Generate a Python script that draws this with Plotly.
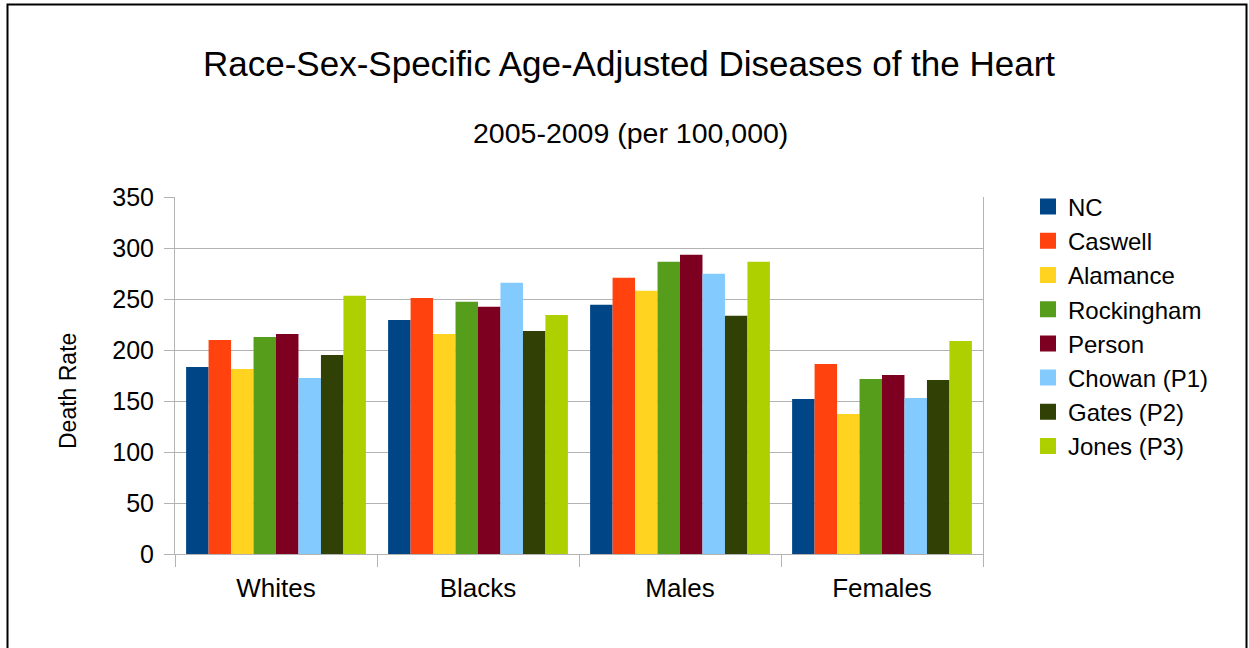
import plotly.graph_objects as go

categories = ["Whites", "Blacks", "Males", "Females"]
series_names = ["NC", "Caswell", "Alamance", "Rockingham", "Person",
                "Chowan (P1)", "Gates (P2)", "Jones (P3)"]
nc = [183.4, 229.5, 244.3, 151.9]
caswell = [209.9, 251.1, 270.8, 186.3]
alamance = [181.4, 215.8, 258.0, 137.2]
rockingham = [212.8, 247.2, 286.5, 171.6]
person = [215.8, 242.3, 293.4, 175.5]
chowan = [172.6, 265.9, 274.7, 152.9]
gates = [195.2, 218.7, 233.5, 170.6]
jones = [253.1, 234.4, 286.5, 208.9]
values = [nc, caswell, alamance, rockingham, person, chowan, gates, jones]
colors = ["#004586", "#ff420e", "#ffd320", "#579d1c", "#7e0021",
          "#83caff", "#314004", "#aecf00"]
y_ticks = [0, 50, 100, 150, 200, 250, 300, 350]

FONT = "Liberation Sans, Arial, sans-serif"

fig = go.Figure()
for name, vals, col in zip(series_names, values, colors):
    fig.add_trace(go.Bar(x=categories, y=vals, name=name, marker_color=col,
                         marker_line_width=0, showlegend=False))
# legend entries (16px squares like the original)
for name, col in zip(series_names, colors):
    fig.add_trace(go.Scatter(x=[None], y=[None], mode="markers", name=name,
                             marker=dict(symbol="square", size=16, color=col,
                                         line=dict(width=0)),
                             showlegend=True))

W, H = 1249, 648
L, R, T, B = 175, 983, 197, 554
pw, ph = R - L, B - T

def px(x):
    return (x - L) / pw

def py(y):
    return (B - y) / ph

fig.update_layout(
    width=W, height=H,
    margin=dict(l=L, r=W - R, t=T, b=H - B, pad=0),
    paper_bgcolor="white", plot_bgcolor="white",
    font=dict(family=FONT, color="black"),
    barmode="group", bargap=0.11, bargroupgap=0,
    showlegend=True,
    legend=dict(x=px(1028), y=py(184.5), xanchor="left", yanchor="top",
                font=dict(size=24, family=FONT), tracegroupgap=0,
                itemsizing="trace", bgcolor="rgba(0,0,0,0)"),
    xaxis=dict(showline=True, linecolor="#b3b3b3", linewidth=1,
               ticks="outside", tickson="boundaries", ticklen=12,
               tickcolor="#b3b3b3", tickfont=dict(size=26, family=FONT),
               ticklabelstandoff=11, showgrid=False, fixedrange=True),
    yaxis=dict(range=[0, 350], tickvals=y_ticks, showline=True, mirror=True,
               linecolor="#b3b3b3", linewidth=1, ticks="outside", ticklen=10,
               tickcolor="#b3b3b3", gridcolor="#b3b3b3", gridwidth=1,
               tickfont=dict(size=25, family=FONT), zeroline=False,
               ticklabelstandoff=5, fixedrange=True),
    annotations=[
        dict(text="Race-Sex-Specific Age-Adjusted Diseases of the Heart",
             x=px(629), y=py(63), xref="paper", yref="paper",
             xanchor="center", yanchor="middle", showarrow=False,
             font=dict(size=35, family=FONT)),
        dict(text="2005-2009 (per 100,000)",
             x=px(630.5), y=py(132.5), xref="paper", yref="paper",
             xanchor="center", yanchor="middle", showarrow=False,
             font=dict(size=28.5, family=FONT)),
        dict(text="Death Rate", textangle=-90,
             x=px(67.5), y=py(391.5), xref="paper", yref="paper",
             xanchor="center", yanchor="middle", showarrow=False,
             font=dict(size=23, family=FONT)),
    ],
    shapes=[dict(type="rect", xref="paper", yref="paper",
                 x0=px(7.5), x1=px(1246.5), y0=py(700), y1=py(4.5),
                 line=dict(color="black", width=2), fillcolor="rgba(0,0,0,0)",
                 layer="below")],
)

fig.write_html("out.html", config={"displayModeBar": False},
               post_script="document.body.style.margin='0';document.body.style.overflow='hidden';")
